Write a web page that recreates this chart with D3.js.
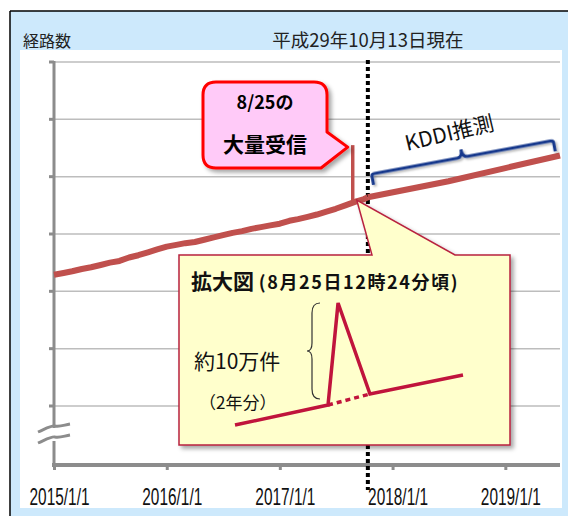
<!DOCTYPE html>
<html>
<head>
<meta charset="utf-8">
<script src="https://cdn.jsdelivr.net/npm/d3@7"></script>
<style>
  body { margin: 0; background: #fff; }
  text { font-family: "Noto Sans CJK JP", "Noto Sans", sans-serif; }
</style>
</head>
<body>
<div id="chart"></div>
<script>
// measured route counts (unit: 10k routes), monthly
var actualDates = [
  "2015-01-01","2015-02-01","2015-03-01","2015-04-01","2015-05-01","2015-06-01",
  "2015-07-01","2015-08-01","2015-09-01","2015-10-01","2015-11-01","2015-12-01",
  "2016-01-01","2016-02-01","2016-03-01","2016-04-01","2016-05-01","2016-06-01",
  "2016-07-01","2016-08-01","2016-09-01","2016-10-01","2016-11-01","2016-12-01",
  "2017-01-01","2017-02-01","2017-03-01","2017-04-01","2017-05-01","2017-06-01",
  "2017-07-01","2017-08-01","2017-09-01","2017-10-01","2017-10-13"
];
var actualValues = [
  52.9, 53.2, 53.5, 53.9, 54.2, 54.6,
  55.0, 55.3, 55.9, 56.3, 56.8, 57.3,
  57.8, 58.1, 58.4, 58.6, 59.0, 59.4,
  59.8, 60.2, 60.5, 60.9, 61.2, 61.5,
  61.8, 62.3, 62.6, 63.0, 63.4, 63.9,
  64.4, 65.0, 65.6, 66.1, 66.4
];
// KDDI forecast
var forecastDates = ["2017-10-13", "2018-07-01", "2019-01-01", "2019-06-27"];
var forecastValues = [66.4, 69.2, 71.5, 73.7];
// 8/25 burst
var spikeDate = "2017-08-25";
var spikeBase = 65.4;
var spikePeak = 75.5;
var todayDate = "2017-10-13";

var gridValues = [30, 40, 50, 60, 70, 80, 90];
var yearTicks = ["2015-01-01", "2016-01-01", "2017-01-01", "2018-01-01", "2019-01-01"];

// zoomed inset (schematic)
var insetT = [0, 4.08, 4.52, 5.92, 10];
var insetV = [0, 2.0, 12.2, 3.1, 5.0];

var parse = d3.timeParse("%Y-%m-%d");
var fmt = d3.timeFormat("%Y/%-m/%-d");

var W = 568, H = 516;
var svg = d3.select("#chart").append("svg")
    .attr("width", W)
    .attr("height", H);

var defs = svg.append("defs");
var shadow = defs.append("filter").attr("id", "shadow")
    .attr("x", "-10%").attr("y", "-10%").attr("width", "130%").attr("height", "130%");
shadow.append("feDropShadow")
    .attr("dx", 3).attr("dy", 3).attr("stdDeviation", 2)
    .attr("flood-color", "#000").attr("flood-opacity", 0.35);
var shadowSmall = defs.append("filter").attr("id", "shadowSmall")
    .attr("x", "-10%").attr("y", "-30%").attr("width", "130%").attr("height", "160%");
shadowSmall.append("feDropShadow")
    .attr("dx", 1.5).attr("dy", 2).attr("stdDeviation", 1)
    .attr("flood-color", "#000").attr("flood-opacity", 0.3);

// frame
svg.append("rect").attr("x", 10).attr("y", 11).attr("width", W - 10).attr("height", H - 11)
    .style("fill", "#cde9fc");
svg.append("line").attr("x1", 10).attr("y1", 11).attr("x2", W).attr("y2", 11)
    .style("stroke", "#000").style("stroke-width", 1.5);
svg.append("line").attr("x1", 10).attr("y1", 11).attr("x2", 10).attr("y2", H)
    .style("stroke", "#000").style("stroke-width", 1.5);
svg.append("rect").attr("x", 20).attr("y", 50).attr("width", 542).attr("height", 458)
    .style("fill", "#fff");

svg.append("text").attr("x", 23).attr("y", 47)
    .style("font-size", "16px").style("fill", "#222")
    .text("経路数");

var x = d3.scaleTime()
    .domain([parse("2015-01-01"), parse("2019-06-27")])
    .range([54, 560]);
var y = d3.scaleLinear()
    .domain([30, 90])
    .range([406, 62]);
var axisY = 465;

// gridlines
svg.append("g").selectAll("line")
    .data(gridValues)
    .enter().append("line")
    .attr("x1", 54).attr("x2", 560)
    .attr("y1", function(d) { return y(d); })
    .attr("y2", function(d) { return y(d); })
    .style("stroke", "#bdbdbd").style("stroke-width", 1.5);

// y axis with break
var axisG = svg.append("g");
axisG.append("line").attr("x1", 54).attr("x2", 54).attr("y1", y(90) - 1).attr("y2", axisY)
    .style("stroke", "#8c8c8c").style("stroke-width", 3);
axisG.selectAll(".ytick")
    .data(gridValues)
    .enter().append("line")
    .attr("x1", 49).attr("x2", 54)
    .attr("y1", function(d) { return y(d); })
    .attr("y2", function(d) { return y(d); })
    .style("stroke", "#8c8c8c").style("stroke-width", 3);
axisG.append("rect").attr("x", 44).attr("y", 428).attr("width", 22).attr("height", 13)
    .style("fill", "#fff");
[0, 11].forEach(function(off) {
    axisG.append("path")
        .attr("d", "M38," + (432 + off) + " C47," + (428 + off) + " 52," + (425 + off) + " 55," + (426 + off) +
              " C60," + (427 + off) + " 64," + (425 + off) + " 70," + (424 + off))
        .style("fill", "none").style("stroke", "#8c8c8c").style("stroke-width", 3);
});

// x axis
var xAxis = d3.axisBottom(x)
    .tickValues(yearTicks.map(parse))
    .tickSize(5)
    .tickFormat(fmt);
var gx = svg.append("g")
    .attr("transform", "translate(0," + axisY + ")")
    .call(xAxis);
gx.select(".domain").remove();
gx.insert("line", ":first-child").attr("x1", 52).attr("x2", 560).attr("y1", 0).attr("y2", 0)
    .style("stroke", "#8c8c8c").style("stroke-width", 4);
gx.selectAll(".tick line").style("stroke", "#8c8c8c").style("stroke-width", 3);
var squeeze = 0.67;
gx.selectAll(".tick text")
    .attr("dy", 0).attr("y", 40).attr("x", 5 / squeeze)
    .attr("transform", "scale(" + squeeze + ",1)")
    .style("font-size", "23px").style("fill", "#111")
    .style("font-family", "'Liberation Sans', sans-serif");

// today marker
svg.append("line")
    .attr("x1", x(parse(todayDate))).attr("x2", x(parse(todayDate)))
    .attr("y1", y(90) - 2).attr("y2", 490)
    .style("stroke", "#000").style("stroke-width", 4)
    .style("stroke-dasharray", "4,3");
svg.append("text")
    .attr("x", x(parse(todayDate)))
    .attr("y", 47)
    .attr("text-anchor", "middle")
    .style("font-size", "18.5px").style("fill", "#222")
    .text("平成29年10月13日現在");

// route line
var line = d3.line()
    .x(function(d) { return x(d.date); })
    .y(function(d) { return y(d.value); });
var actual = actualDates.map(function(d, i) { return {date: parse(d), value: actualValues[i]}; });
var forecast = forecastDates.map(function(d, i) { return {date: parse(d), value: forecastValues[i]}; });

svg.append("line")
    .attr("x1", x(parse(spikeDate))).attr("x2", x(parse(spikeDate)))
    .attr("y1", y(spikeBase)).attr("y2", y(spikePeak))
    .style("stroke", "#c0504d").style("stroke-width", 3.5);
svg.append("path").datum(actual)
    .attr("d", line)
    .style("fill", "none").style("stroke", "#c0504d").style("stroke-width", 6)
    .style("stroke-linejoin", "round");
svg.append("path").datum(forecast)
    .attr("d", line)
    .style("fill", "none").style("stroke", "#c0504d").style("stroke-width", 6);

// KDDI forecast brace
var bx1 = x(parse("2017-10-25")), by1 = y(66.8) - 21;
var bx2 = x(parse("2019-06-05")), by2 = y(73.0) - 19;
var ang = Math.atan2(by2 - by1, bx2 - bx1) * 180 / Math.PI;
var half = Math.sqrt((bx2 - bx1) * (bx2 - bx1) + (by2 - by1) * (by2 - by1)) / 2;
var brace = svg.append("g")
    .attr("transform", "translate(" + ((bx1 + bx2) / 2) + "," + ((by1 + by2) / 2) + ") rotate(" + ang + ")");
brace.append("path")
    .attr("d", "M" + (-half) + ",11 L" + (-half) + ",2 Q" + (-half) + ",0 " + (-half + 3) + ",0 L-5,0 Q0,0 0,-8 Q0,0 5,0 L" +
          (half - 3) + ",0 Q" + half + ",0 " + half + ",2 L" + half + ",11")
    .style("fill", "none").style("stroke", "#14388c").style("stroke-width", 3)
    .attr("filter", "url(#shadowSmall)");
brace.append("text")
    .attr("x", -7).attr("y", -19)
    .attr("text-anchor", "middle")
    .attr("transform", "rotate(-3)")
    .style("font-size", "21px").style("fill", "#111")
    .text("KDDI推測");

// pink callout
var cx0 = 203, cy0 = 82, cw = 124, ch = 86, r = 13;
var tipX = x(parse(spikeDate)) - 5, tipY = y(spikePeak) + 2;
var bubble = "M" + (cx0 + r) + "," + cy0 +
    " L" + (cx0 + cw - r) + "," + cy0 + " Q" + (cx0 + cw) + "," + cy0 + " " + (cx0 + cw) + "," + (cy0 + r) +
    " L" + (cx0 + cw) + "," + (cy0 + 50) + " L" + tipX + "," + tipY + " L" + (cx0 + cw - 6) + "," + (cy0 + ch) +
    " L" + (cx0 + r) + "," + (cy0 + ch) + " Q" + cx0 + "," + (cy0 + ch) + " " + cx0 + "," + (cy0 + ch - r) +
    " L" + cx0 + "," + (cy0 + r) + " Q" + cx0 + "," + cy0 + " " + (cx0 + r) + "," + cy0 + " Z";
svg.append("path").attr("d", bubble)
    .style("fill", "#ffcaf8").style("stroke", "#ff0000").style("stroke-width", 3)
    .style("stroke-linejoin", "round")
    .attr("filter", "url(#shadow)");
svg.append("text").attr("x", cx0 + cw / 2).attr("y", 109)
    .attr("text-anchor", "middle")
    .style("font-size", "18px").style("font-weight", "bold").style("fill", "#000")
    .text("8/25の");
svg.append("text").attr("x", cx0 + cw / 2).attr("y", 152)
    .attr("text-anchor", "middle")
    .style("font-size", "21px").style("font-weight", "bold").style("fill", "#000")
    .text("大量受信");

// inset box with tail
var ix0 = 179, iy0 = 255, ix1 = 510, iy1 = 445;
var tailTipX = x(parse(spikeDate)) + 4, tailTipY = y(spikeBase) - 3;
var inset = "M" + ix0 + "," + iy0 + " L372," + iy0 + " L" + tailTipX + "," + tailTipY + " L455," + iy0 +
    " L" + ix1 + "," + iy0 + " L" + ix1 + "," + iy1 + " L" + ix0 + "," + iy1 + " Z";
svg.append("path").attr("d", inset)
    .style("fill", "#ffffcc").style("stroke", "#b8233f").style("stroke-width", 1.5)
    .attr("filter", "url(#shadow)");

svg.append("text").attr("x", 191).attr("y", 289)
    .style("font-weight", "bold").style("fill", "#111")
    .call(function(t) {
        t.append("tspan").style("font-size", "21px").text("拡大図 ");
        t.append("tspan").style("font-size", "18px").style("letter-spacing", "1.6px").text("(8月25日12時24分頃)");
    });

var ixs = d3.scaleLinear().domain([0, 10]).range([235, 463]);
var iys = d3.scaleLinear().domain([0, 10]).range([425, 325]);
var insetPts = insetT.map(function(t, i) { return [ixs(t), iys(insetV[i])]; });
var iline = d3.line();
svg.append("path").datum([insetPts[0], insetPts[1], insetPts[2], insetPts[3], insetPts[4]])
    .attr("d", iline)
    .style("fill", "none").style("stroke", "#c0143c").style("stroke-width", 3.5)
    .style("stroke-linejoin", "miter");
svg.append("path").datum([insetPts[1], insetPts[3]])
    .attr("d", iline)
    .style("fill", "none").style("stroke", "#c0143c").style("stroke-width", 3.5)
    .style("stroke-dasharray", "5,4");

// inset brace
var brX = 320, brTop = iys(insetV[2]), brBot = iys(insetV[1]) - 6, brMid = (brTop + brBot) / 2;
svg.append("path")
    .attr("d", "M" + brX + "," + brTop + " Q" + (brX - 8) + "," + brTop + " " + (brX - 8) + "," + (brTop + 10) +
          " L" + (brX - 8) + "," + (brMid - 8) + " Q" + (brX - 8) + "," + brMid + " " + (brX - 13) + "," + brMid +
          " Q" + (brX - 8) + "," + brMid + " " + (brX - 8) + "," + (brMid + 8) +
          " L" + (brX - 8) + "," + (brBot - 10) + " Q" + (brX - 8) + "," + brBot + " " + brX + "," + brBot)
    .style("fill", "none").style("stroke", "#333").style("stroke-width", 1.2);

svg.append("text").attr("x", 194).attr("y", 369)
    .style("font-size", "21px").style("fill", "#111")
    .text("約10万件");
svg.append("text").attr("x", 199).attr("y", 409)
    .style("font-size", "17px").style("fill", "#111")
    .text("（2年分）");
</script>
</body>
</html>
